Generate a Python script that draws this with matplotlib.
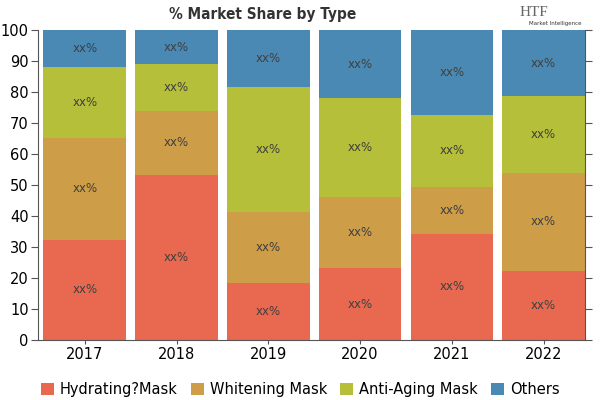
import numpy as np
import matplotlib.pyplot as plt

years = ["2017", "2018", "2019", "2020", "2021", "2022"]
series = ["Hydrating?Mask", "Whitening Mask", "Anti-Aging Mask", "Others"]
hydrating = [32.3, 53.2, 18.4, 23.2, 34.2, 22.4]
whitening = [33.0, 20.8, 22.9, 22.9, 15.3, 31.5]
anti_aging = [22.9, 15.0, 40.3, 31.9, 23.1, 24.8]
others = [11.8, 11.0, 18.4, 22.0, 27.4, 21.3]
colors = ["#E8694F", "#CD9D48", "#B5BF3A", "#4A89B4"]

fig = plt.figure(figsize=(6, 4), dpi=100)
ax = fig.add_axes([0.064, 0.15, 0.911, 0.775])

x = np.arange(len(years))
bottom = np.zeros(len(years))
for name, vals, col in zip(series, [hydrating, whitening, anti_aging, others], colors):
    vals = np.array(vals)
    ax.bar(x, vals, 0.9, bottom=bottom, color=col, label=name)
    for xi, b, v in zip(x, bottom, vals):
        ax.text(xi, b + v / 2, "xx%", ha="center", va="center",
                fontsize=8.5, color="#404040")
    bottom += vals

ax.set_xlim(-0.505, 5.45)
ax.set_ylim(0, 100)
ax.set_yticks(range(0, 101, 10))
ax.set_xticks(x)
ax.set_xticklabels(years)
ax.tick_params(axis="y", direction="out", length=5, color="#555555",
               labelsize=10.5, right=True, labelright=False, pad=2)
ax.tick_params(axis="x", length=3, color="#555555", labelsize=10.5, pad=2)
for s in ["left", "bottom", "right"]:
    ax.spines[s].set_color("#555555")
    ax.spines[s].set_linewidth(0.8)
ax.spines["top"].set_visible(False)

fig.text(0.437, 0.963, "% Market Share by Type", ha="center", va="center",
         fontsize=11, fontweight="bold", fontstretch="condensed", color="#333333")
fig.text(0.89, 0.97, "HTF", ha="center", va="center", fontsize=11,
         color="#666666", family="Liberation Serif")
fig.text(0.925, 0.94, "Market Intelligence", ha="center", va="center",
         fontsize=4, color="#333333")

fig.legend(loc="lower center", ncol=4, frameon=False, fontsize=10.5,
           bbox_to_anchor=(0.5, -0.025), handlelength=0.9, handleheight=0.9,
           handletextpad=0.4, columnspacing=0.9)

fig.savefig("out.png", dpi=100)
